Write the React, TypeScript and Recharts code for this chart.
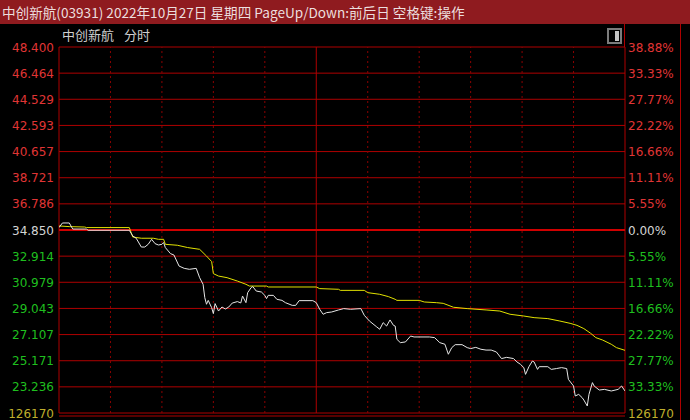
import React from 'react';
import { LineChart, Line, XAxis, YAxis, CartesianGrid, ReferenceLine } from 'recharts';

// ---- data ----
const prevClose = 34.85;
const totalMinutes = 330;
const sessionBreak = 150;
const timeGrid = [30, 60, 90, 120, 180, 210, 240, 270, 300];

const priceTimes = [
  0, 2, 6, 8, 16, 17, 41, 43, 45, 48,
  50, 52, 54, 56, 58, 60, 61, 62, 65, 67,
  70, 73, 76, 80, 82, 84, 85, 86, 87, 89,
  90, 91, 93, 95, 97, 99, 101, 104, 106, 107,
  109, 110, 112, 113, 115, 118, 120, 121, 122, 125,
  127, 130, 132, 136, 138, 140, 148, 150, 152, 154,
  156, 159, 163, 166, 170, 176, 178, 181, 185, 187,
  189, 191, 193, 195, 196, 197, 199, 202, 205, 207,
  216, 219, 222, 225, 227, 229, 231, 235, 238, 240,
  243, 246, 249, 252, 255, 258, 261, 265, 267, 269,
  271, 272, 274, 276, 277, 279, 280, 285, 287, 290,
  293, 296, 297, 300, 301, 303, 305, 306, 308, 309,
  311, 312, 315, 318, 322, 326, 328, 330,
];
const priceValues = [
  35.03, 35.37, 35.37, 34.92, 34.92, 34.83, 34.83, 34.41, 34.24, 33.59,
  33.59, 33.79, 34.16, 33.84, 33.74, 33.79, 33.92, 33.55, 33.10, 33.00,
  32.18, 32.01, 31.94, 32.01, 31.32, 30.83, 29.84, 29.35, 29.64, 29.10,
  28.66, 29.40, 28.85, 29.15, 29.00, 29.15, 29.44, 29.55, 29.45, 29.96,
  29.47, 30.21, 30.58, 30.66, 30.33, 30.26, 30.01, 29.77, 30.01, 30.01,
  29.72, 29.64, 29.47, 29.27, 29.27, 29.62, 29.62, 29.47, 28.98, 28.61,
  28.73, 28.78, 28.93, 29.03, 28.98, 29.03, 28.53, 28.11, 27.70, 27.50,
  27.99, 27.74, 28.19, 27.79, 27.74, 26.76, 26.51, 26.56, 27.00, 26.93,
  26.93, 26.88, 26.51, 26.39, 25.65, 26.14, 26.36, 26.36, 26.14, 26.07,
  26.16, 26.02, 25.96, 25.96, 25.82, 25.33, 25.42, 25.33, 25.08, 24.91,
  24.66, 24.16, 24.73, 25.15, 25.08, 24.53, 24.73, 24.73, 24.53, 24.59,
  24.66, 24.59, 23.79, 23.30, 22.56, 22.68, 22.44, 22.26, 21.82, 22.68,
  23.55, 23.30, 23.00, 23.05, 22.93, 23.05, 23.30, 22.93,
];

const avgTimes = [
  0, 6, 15, 16, 41, 43, 48, 55, 58, 61,
  62, 69, 75, 82, 86, 89, 90, 93, 98, 104,
  109, 111, 121, 122, 150, 152, 163, 164, 178, 180,
  187, 192, 196, 197, 210, 213, 220, 224, 230, 238,
  249, 257, 263, 271, 277, 285, 292, 298, 302, 306,
  310, 313, 317, 322, 325, 330,
];
const avgValues = [
  35.15, 35.10, 35.07, 35.03, 35.03, 34.33, 34.24, 34.24, 34.16, 34.16,
  33.79, 33.72, 33.55, 33.42, 32.92, 32.51, 31.62, 31.44, 31.32, 31.07,
  30.83, 30.70, 30.70, 30.63, 30.63, 30.51, 30.46, 30.38, 30.38, 30.21,
  30.09, 29.92, 29.72, 29.64, 29.64, 29.52, 29.47, 29.42, 29.13, 29.03,
  28.93, 28.85, 28.61, 28.48, 28.36, 28.29, 28.11, 27.94, 27.79, 27.55,
  27.20, 26.88, 26.70, 26.39, 26.14, 25.94,
];

const priceTicks = [48.4, 46.464, 44.529, 42.593, 40.657, 38.721, 36.786, 34.85, 32.914, 30.979, 29.043, 27.107, 25.171, 23.236, 21.3];
const leftTickLabels = ['48.400', '46.464', '44.529', '42.593', '40.657', '38.721', '36.786', '34.850', '32.914', '30.979', '29.043', '27.107', '25.171', '23.236', '126170'];
const rightTickLabels = ['38.88%', '33.33%', '27.77%', '22.22%', '16.66%', '11.11%', '5.55%', '0.00%', '5.55%', '11.11%', '16.66%', '22.22%', '27.77%', '33.33%', '126170'];

const titleText = '中创新航(03931) 2022年10月27日 星期四 PageUp/Down:前后日 空格键:操作';
const stockName = '中创新航';
const viewName = '分时';

const priceData = priceTimes.map((t, i) => ({ t, v: priceValues[i] }));
const avgData = avgTimes.map((t, i) => ({ t, v: avgValues[i] }));

// ---- styles ----
const RED = '#ae0000';
const labelFont = '"DejaVu Sans", sans-serif';

const tickIndex = (v: number) => priceTicks.findIndex((p) => Math.abs(p - v) < 1e-6);
const tickColor = (i: number) => {
  if (i === priceTicks.length - 1) return '#bfae2c';
  const v = priceTicks[i];
  if (Math.abs(v - prevClose) < 1e-6) return '#d4d4d4';
  return v > prevClose ? '#e03535' : '#1fbf1f';
};

const LeftTick = (props: any) => {
  const { x, y, payload } = props;
  const i = tickIndex(payload.value);
  if (i < 0) return null;
  return (
    <text x={x} y={y} dy={4.5} textAnchor="end" fill={tickColor(i)} fontFamily={labelFont} fontSize={12}>
      {leftTickLabels[i]}
    </text>
  );
};

const RightTick = (props: any) => {
  const { x, y, payload } = props;
  const i = tickIndex(payload.value);
  if (i < 0) return null;
  return (
    <text x={x} y={y} dy={4.5} textAnchor="start" fill={tickColor(i)} fontFamily={labelFont} fontSize={12}>
      {rightTickLabels[i]}
    </text>
  );
};

export default function App() {
  return (
    <div style={{ position: 'absolute', left: 0, top: 0, width: 690, height: 420, background: '#000', overflow: 'hidden' }}>
      <LineChart width={690} height={420} margin={{ top: 47, right: 0, bottom: 7, left: 0 }} style={{ position: 'absolute', left: 0, top: 0 }}>
        <CartesianGrid yAxisId="left" vertical={false} stroke={RED} strokeWidth={1} />
        <XAxis type="number" dataKey="t" domain={[0, totalMinutes]} hide allowDataOverflow />
        <YAxis
          yAxisId="left"
          orientation="left"
          width={59}
          domain={[21.3, 48.4]}
          ticks={priceTicks}
          interval={0}
          allowDataOverflow
          axisLine={false}
          tickLine={false}
          tickSize={0}
          tickMargin={5}
          tick={<LeftTick />}
        />
        <YAxis
          yAxisId="right"
          orientation="right"
          width={65}
          domain={[21.3, 48.4]}
          ticks={priceTicks}
          interval={0}
          allowDataOverflow
          axisLine={false}
          tickLine={false}
          tickSize={0}
          tickMargin={3}
          tick={<RightTick />}
        />
        {timeGrid.map((t) => (
          <ReferenceLine key={t} yAxisId="left" x={t} stroke="#8c0000" strokeDasharray="2 3" strokeWidth={1} />
        ))}
        <ReferenceLine yAxisId="left" x={sessionBreak} stroke={RED} strokeWidth={1} />
        <ReferenceLine yAxisId="left" x={0} stroke={RED} strokeWidth={1} />
        <ReferenceLine yAxisId="left" x={totalMinutes} stroke={RED} strokeWidth={1} />
        <ReferenceLine yAxisId="left" y={prevClose} stroke="#d00000" strokeWidth={2} />
        <Line
          yAxisId="left"
          data={avgData}
          dataKey="v"
          type="linear"
          stroke="#e2e200"
          strokeWidth={1}
          dot={false}
          isAnimationActive={false}
        />
        <Line
          yAxisId="left"
          data={priceData}
          dataKey="v"
          type="linear"
          stroke="#e6e6e6"
          strokeWidth={1}
          dot={false}
          isAnimationActive={false}
        />
      </LineChart>
      <svg width={690} height={420} style={{ position: 'absolute', left: 0, top: 0, pointerEvents: 'none' }}>
        <line x1={624.5} y1={24} x2={624.5} y2={47} stroke={RED} strokeWidth={1} />
        <line x1={680.5} y1={24} x2={680.5} y2={420} stroke={RED} strokeWidth={1} />
        <line x1={59} y1={416} x2={625} y2={416} stroke={RED} strokeWidth={1} />
      </svg>
      <div
        style={{
          position: 'absolute', left: 0, top: 0, width: 690, height: 24, background: '#8f1b1f',
          color: '#ecdede', fontFamily: '"Noto Sans CJK SC", sans-serif', fontSize: 13.6, lineHeight: '24px',
          paddingLeft: 2, boxSizing: 'border-box', whiteSpace: 'nowrap',
        }}
      >
        {titleText}
      </div>
      <div
        style={{
          position: 'absolute', left: 62, top: 26, color: '#cfcfcf', fontFamily: '"Noto Sans CJK SC", sans-serif',
          fontSize: 13, lineHeight: '18px', whiteSpace: 'nowrap',
        }}
      >
        {stockName}
        <span style={{ marginLeft: 10 }}>{viewName}</span>
      </div>
      <div
        style={{
          position: 'absolute', left: 607, top: 28, width: 15, height: 16, boxSizing: 'border-box',
          border: '2px solid #7c7c7c',
        }}
      >
        <div style={{ position: 'absolute', right: 1, top: 1, width: 4, height: 10, background: '#c4c4c4' }} />
      </div>
    </div>
  );
}
